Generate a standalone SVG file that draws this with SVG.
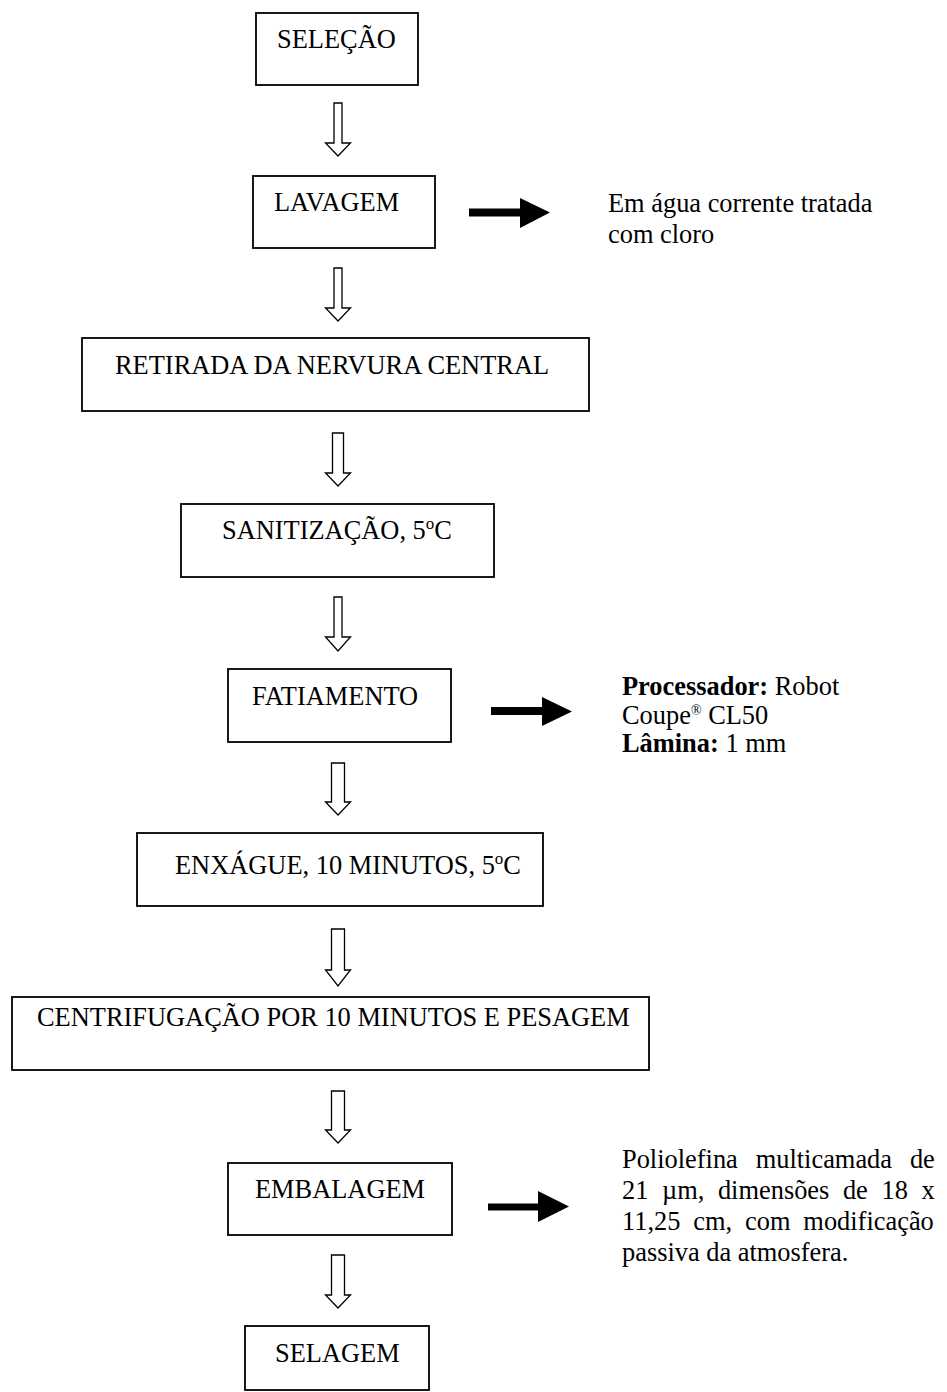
<svg xmlns="http://www.w3.org/2000/svg" width="947" height="1392" viewBox="0 0 947 1392">
<style>
  .box { fill: #fff; stroke: #000; stroke-width: 1.8; }
  .t { font-family: "Liberation Serif", "Times New Roman", serif; font-size: 26.4px; fill: #000; }
  .b { font-weight: bold; }
  .hollow { fill: #fff; stroke: #000; stroke-width: 1.3; stroke-linejoin: miter; }
  .solid { fill: #000; stroke: none; }
  .sup { font-size: 17px; }
  .reg { font-size: 14px; }
</style>
<rect width="947" height="1392" fill="#fff"/>

<g id="connectors">
  <path class="hollow" d="M334,103 H342 V143 H350.5 L338,156 L325.5,143 H334 Z"/>
  <path class="hollow" d="M334,268 H342 V308 H350.5 L338,321 L325.5,308 H334 Z"/>
  <path class="hollow" d="M332.5,433 H343.5 V473 H350.5 L338,486 L325.5,473 H332.5 Z"/>
  <path class="hollow" d="M334,597 H342 V637 H350.5 L338,651 L325.5,637 H334 Z"/>
  <path class="hollow" d="M331.5,763 H344.5 V802 H350.5 L338,815 L325.5,802 H331.5 Z"/>
  <path class="hollow" d="M331.5,929 H344.5 V970 H350.5 L338,986 L325.5,970 H331.5 Z"/>
  <path class="hollow" d="M331.5,1091 H344.5 V1130 H350.5 L338,1143 L325.5,1130 H331.5 Z"/>
  <path class="hollow" d="M331.5,1255 H344.5 V1295 H350.5 L338,1308 L325.5,1295 H331.5 Z"/>
  <path class="solid" d="M469,208.5 H520 V198 L550,212.5 L520,228 V216.5 H469 Z"/>
  <path class="solid" d="M491,707 H542 V697 L572,711.5 L542,726 V715 H491 Z"/>
  <path class="solid" d="M488,1203.5 H538 V1191 L569,1206.5 L538,1222 V1210.5 H488 Z"/>
</g>

<g id="selecao">
  <rect class="box" x="256" y="13" width="162" height="72"/>
  <text class="t" x="277" y="48">SELEÇÃO</text>
</g>
<g id="lavagem">
  <rect class="box" x="253" y="176" width="182" height="72"/>
  <text class="t" x="274" y="211">LAVAGEM</text>
</g>
<g id="nota-lavagem">
  <text class="t" x="608" y="212">Em água corrente tratada</text>
  <text class="t" x="608" y="243">com cloro</text>
</g>
<g id="retirada">
  <rect class="box" x="82" y="338" width="507" height="73"/>
  <text class="t" x="115" y="374">RETIRADA DA NERVURA CENTRAL</text>
</g>
<g id="sanitizacao">
  <rect class="box" x="181" y="504" width="313" height="73"/>
  <text class="t" x="222" y="539">SANITIZAÇÃO, 5<tspan class="sup" dy="-10">o</tspan><tspan dy="10">C</tspan></text>
</g>
<g id="fatiamento">
  <rect class="box" x="228" y="669" width="223" height="73"/>
  <text class="t" x="252" y="705">FATIAMENTO</text>
</g>
<g id="nota-fatiamento">
  <text class="t" x="622" y="695"><tspan class="b">Processador:</tspan> Robot</text>
  <text class="t" x="622" y="724">Coupe<tspan class="reg" dy="-9">®</tspan><tspan dy="9"> CL50</tspan></text>
  <text class="t" x="622" y="752"><tspan class="b">Lâmina:</tspan> 1 mm</text>
</g>
<g id="enxague">
  <rect class="box" x="137" y="833" width="406" height="73"/>
  <text class="t" x="175" y="874">ENXÁGUE, 10 MINUTOS, 5<tspan class="sup" dy="-10">o</tspan><tspan dy="10">C</tspan></text>
</g>
<g id="centrifugacao">
  <rect class="box" x="12" y="997" width="637" height="73"/>
  <text class="t" x="37" y="1026">CENTRIFUGAÇÃO POR 10 MINUTOS E PESAGEM</text>
</g>
<g id="embalagem">
  <rect class="box" x="228" y="1163" width="224" height="72"/>
  <text class="t" x="255" y="1198">EMBALAGEM</text>
</g>
<g id="nota-embalagem">
  <text class="t" x="622" y="1168" word-spacing="11.3">Poliolefina multicamada de</text>
  <text class="t" x="622" y="1199" word-spacing="7">21 µm, dimensões de 18 x</text>
  <text class="t" x="622" y="1230" word-spacing="6.3">11,25 cm, com modificação</text>
  <text class="t" x="622" y="1261">passiva da atmosfera.</text>
</g>
<g id="selagem">
  <rect class="box" x="245" y="1326" width="184" height="64"/>
  <text class="t" x="275" y="1362">SELAGEM</text>
</g>
</svg>
